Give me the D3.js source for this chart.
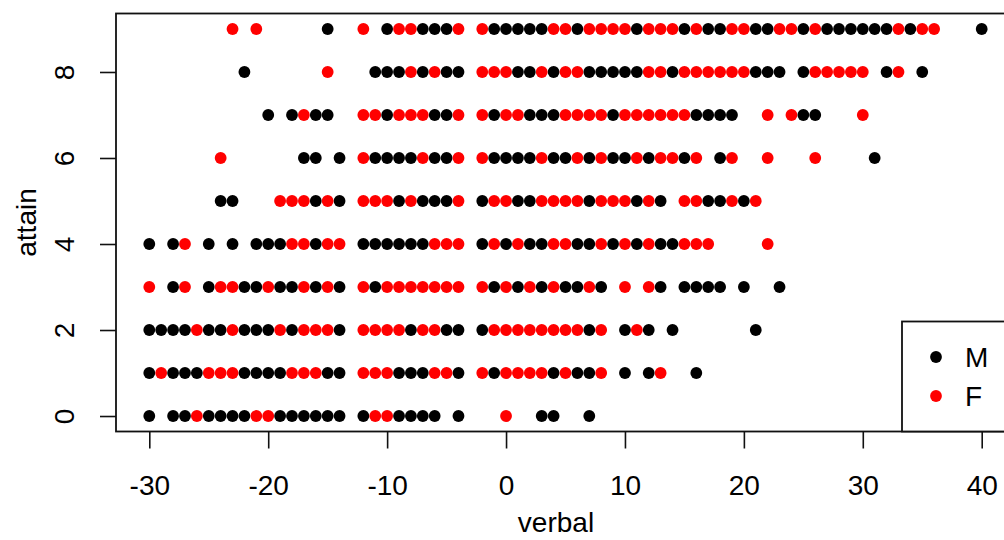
<!DOCTYPE html>
<html>
<head>
<meta charset="utf-8">
<script src="https://cdn.jsdelivr.net/npm/d3@7/dist/d3.min.js"></script>
<style>
  html, body { margin: 0; padding: 0; background: #fff; }
  svg { display: block; }
  text { font-family: "Liberation Sans", Arial, sans-serif; fill: #000; }
</style>
</head>
<body>
<svg id="chart" width="1004" height="540"></svg>
<script>
// attain levels (y) and the verbal scores (x) observed for each level, by sex
const attainLevels = [0, 1, 2, 3, 4, 5, 6, 7, 8, 9];

const maleVerbal = [
  [-30,-28,-27,-25,-24,-23,-22,-19,-18,-17,-16,-15,-14,-12,-9,-8,-7,-6,-4,3,4,7],
  [-30,-28,-27,-26,-22,-21,-20,-19,-15,-14,-9,-8,-7,-4,-1,4,6,7,10,12,16],
  [-30,-29,-28,-27,-25,-24,-22,-21,-20,-18,-14,-8,-5,-4,-2,7,10,12,14,21],
  [-28,-25,-22,-21,-19,-18,-16,-14,-11,-1,1,3,5,6,8,13,15,16,17,18,20,23],
  [-30,-28,-25,-23,-21,-20,-19,-16,-12,-11,-10,-9,-8,-7,-2,0,2,3,6,7,9,11,13,14],
  [-24,-23,-16,-14,-9,-7,-6,-5,-2,1,2,7,11,13,17,18,20],
  [-17,-16,-14,-11,-10,-9,-8,-6,-5,-1,0,1,2,4,5,7,9,10,12,15,18,31],
  [-20,-18,-16,-15,-10,-6,-5,-1,2,3,4,9,16,17,18,19,25,26],
  [-22,-11,-10,-9,-7,-5,-4,1,2,4,7,8,9,10,11,14,21,22,23,25,32,35],
  [-15,-10,-7,-6,-5,-1,0,1,2,3,6,11,15,17,18,21,22,25,27,28,29,30,31,32,34,40]
];

const femaleVerbal = [
  [-26,-21,-20,-11,-10,0],
  [-29,-25,-24,-23,-18,-17,-16,-12,-11,-10,-6,-5,-2,0,1,2,3,5,8,13],
  [-26,-23,-19,-17,-16,-15,-12,-11,-10,-9,-7,-6,-1,0,1,2,3,4,5,6,8,11],
  [-30,-27,-24,-23,-20,-17,-15,-12,-10,-9,-8,-7,-6,-5,-4,-2,0,2,4,7,10,12],
  [-27,-18,-17,-15,-14,-6,-5,-4,-1,1,4,5,8,10,12,15,16,17,22],
  [-19,-18,-17,-15,-12,-11,-10,-8,-4,-1,0,3,4,5,6,8,9,10,12,15,16,19,21],
  [-24,-12,-7,-4,-2,3,6,8,11,13,14,16,19,22,26],
  [-17,-12,-11,-9,-8,-7,-4,-2,0,1,5,6,7,8,10,11,12,13,14,15,22,24,30],
  [-15,-8,-6,-2,-1,0,3,5,6,12,13,15,16,17,18,19,20,26,27,28,29,30,33],
  [-23,-21,-12,-9,-8,-4,-2,4,5,7,8,9,10,12,13,14,16,19,20,23,24,26,33,35,36]
];

const xTicks = [-30, -20, -10, 0, 10, 20, 30, 40];
const yTicks = [0, 2, 4, 6, 8];
const legendLabels = ["M", "F"];
const legendColors = ["#000000", "#ff0000"];

(function () {
  const FS = 28;
  const fmt = d => String(d); // plain hyphen-minus, as R prints

  // build point table
  const points = [];
  attainLevels.forEach((a, i) => {
    maleVerbal[i].forEach(v => points.push({ verbal: v, attain: a, sex: "M" }));
    femaleVerbal[i].forEach(v => points.push({ verbal: v, attain: a, sex: "F" }));
  });

  const svg = d3.select("#chart");
  const pL = 116, pR = 1015, pT = 13.5, pB = 431.5;

  const x = d3.scaleLinear().domain([-32.8, 42.8]).range([pL, pR]);
  const y = d3.scaleLinear().domain([-0.36, 9.36]).range([pB, pT]);
  const color = d3.scaleOrdinal().domain(legendLabels).range(legendColors);

  // points
  svg.append("g").selectAll("circle").data(points).join("circle")
    .attr("cx", d => x(d.verbal))
    .attr("cy", d => y(d.attain))
    .attr("r", 5.9)
    .attr("fill", d => color(d.sex));

  // x axis
  const xAxis = svg.append("g")
    .attr("transform", `translate(0,${pB})`)
    .call(d3.axisBottom(x).tickValues(xTicks).tickSize(17).tickSizeOuter(0).tickPadding(27).tickFormat(fmt));
  xAxis.select(".domain").remove();
  xAxis.selectAll(".tick line").attr("stroke", "#111").attr("stroke-width", 1.6);
  xAxis.selectAll(".tick text").attr("font-size", FS).attr("fill", "#000")
    .attr("font-family", "'Liberation Sans', Arial, sans-serif");

  // y axis
  const yAxis = svg.append("g")
    .attr("transform", `translate(${pL},0)`)
    .call(d3.axisLeft(y).tickValues(yTicks).tickSize(16).tickSizeOuter(0).tickPadding(0).tickFormat(fmt));
  yAxis.select(".domain").remove();
  yAxis.selectAll(".tick line").attr("stroke", "#111").attr("stroke-width", 1.6);
  yAxis.selectAll(".tick text")
    .attr("font-size", FS).attr("fill", "#000")
    .attr("font-family", "'Liberation Sans', Arial, sans-serif")
    .attr("x", null).attr("dy", null)
    .attr("text-anchor", "middle")
    .attr("transform", "translate(-52,0) rotate(-90)")
    .attr("dominant-baseline", "central");

  // plot box
  svg.append("rect")
    .attr("x", pL).attr("y", pT)
    .attr("width", pR - pL).attr("height", pB - pT)
    .attr("fill", "none").attr("stroke", "#111").attr("stroke-width", 1.8);

  // axis titles
  svg.append("text")
    .attr("x", x(4.2)).attr("y", 532)
    .attr("text-anchor", "middle").attr("font-size", FS)
    .text("verbal");
  svg.append("text")
    .attr("transform", `translate(36,${y(4.5)}) rotate(-90)`)
    .attr("text-anchor", "middle").attr("font-size", FS)
    .text("attain");

  // legend
  const lg = svg.append("g");
  lg.append("rect")
    .attr("x", 902).attr("y", 321.5)
    .attr("width", pR - 902).attr("height", pB - 321.5)
    .attr("fill", "#fff").attr("stroke", "#111").attr("stroke-width", 1.8);
  legendLabels.forEach((lab, i) => {
    const cy = 357 + i * 39;
    lg.append("circle").attr("cx", 936).attr("cy", cy).attr("r", 5.9).attr("fill", legendColors[i]);
    lg.append("text").attr("x", 965).attr("y", cy)
      .attr("dominant-baseline", "central").attr("font-size", FS)
      .text(lab);
  });
})();
</script>
</body>
</html>
